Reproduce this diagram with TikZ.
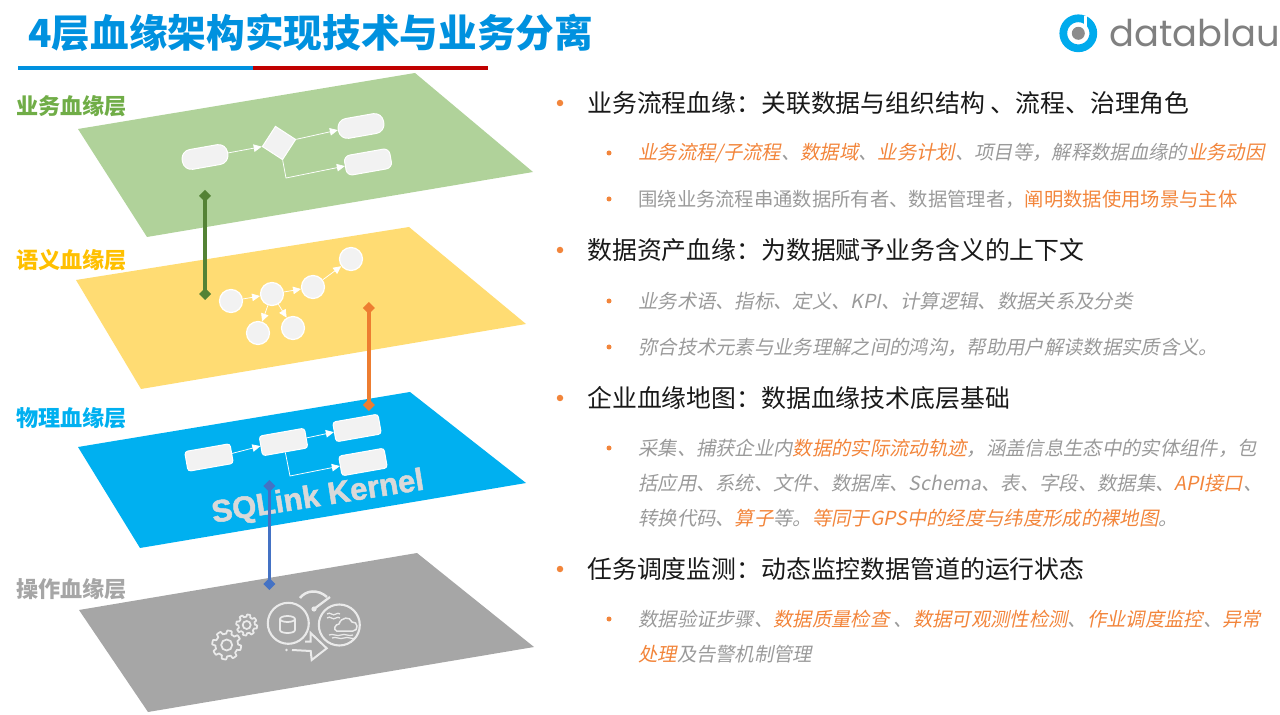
\documentclass[tikz,border=0pt]{standalone}
\usepackage{fontspec}
\usepackage{xcolor}
\usetikzlibrary{arrows.meta}
\setmainfont{Noto Sans CJK SC}
\newfontfamily\slantcjk[FakeSlant=0.2]{Noto Sans CJK SC}
\newfontfamily\latinbold[UprightFont=* Bold, FakeBold=1.6]{Liberation Sans}
\newfontfamily\logofont{Poppins}
\definecolor{titleblue}{HTML}{0091DF}
\definecolor{ruleRed}{HTML}{C00000}
\definecolor{bizgreen}{HTML}{70AD47}
\definecolor{semyellow}{HTML}{FFC000}
\definecolor{phyblue}{HTML}{00B0F0}
\definecolor{opgrey}{HTML}{A6A6A6}
\definecolor{boxgrey}{HTML}{F2F2F2}
\definecolor{hlorange}{HTML}{F2853B}
\definecolor{subgrey}{HTML}{9A9A9A}
\definecolor{linkgreen}{HTML}{548235}
\definecolor{linkorange}{HTML}{ED7D31}
\definecolor{linkblue}{HTML}{4472C4}
\newcommand{\hl}[1]{{\color{hlorange}#1}}
% gear outline: centre x, centre y, outer radius
\newcommand{\geartooth}[3]{
    \draw[icon, line width=0.35mm, line join=round] plot[domain=0:360, samples=145]
        ({#1+#3*(0.78+0.22*max(0,min(1,0.5+1.6*sin(8*\x))))*cos(\x)},
         {#2+#3*(0.78+0.22*max(0,min(1,0.5+1.6*sin(8*\x))))*sin(\x)}) -- cycle;
    \draw[icon, line width=0.35mm] (#1,#2) circle[radius=#3*0.38];
}
\begin{document}
\begin{tikzpicture}[
        x=0.02cm, y=-0.02cm,
        % Style for the flow shapes on the layers
        flowround/.style={
            rectangle, rounded corners=0.18cm, draw=white, line width=0.2mm, fill=boxgrey,
            minimum width=0.92cm, minimum height=0.4cm, inner sep=0pt, rotate=10
        },
        flowrect/.style={flowround, rounded corners=0.06cm},
        flowdiamond/.style={
            rectangle, draw=white, line width=0.2mm, fill=boxgrey,
            minimum size=0.48cm, inner sep=0pt, rotate=-33
        },
        flowcircle/.style={
            circle, draw=white, line width=0.25mm, fill=boxgrey,
            minimum size=0.46cm, inner sep=0pt
        },
        flowarrow/.style={
            draw=white, line width=0.15mm, -{Triangle[length=1.6mm, width=1.5mm, fill=white]}
        },
        % Style for the links between the layers
        layerlink/.style={
            line width=0.7mm, {Diamond[length=2.4mm, width=2.4mm]}-{Diamond[length=2.4mm, width=2.4mm]}
        },
        layerlabel/.style={font=\fontsize{12.6}{15}\bfseries\selectfont, inner sep=0pt, anchor=west},
        icon/.style={draw=boxgrey!90!opgrey},
        % Styles for the text on the right
        headtext/.style={font=\fontsize{14.15}{17}\selectfont, text=black!90, inner sep=0pt, anchor=west},
        subtext/.style={font=\fontsize{11}{13}\selectfont, text=subgrey, inner sep=0pt, anchor=west},
        subslant/.style={font=\fontsize{11}{13}\selectfont\slantcjk, text=subgrey, inner sep=0pt, anchor=west},
        headdot/.style={circle, fill=hlorange, minimum size=0.13cm, inner sep=0pt},
        subdot/.style={circle, fill=hlorange, minimum size=0.1cm, inner sep=0pt}
    ]
        \useasboundingbox (0,0) rectangle (1280,715);

        % --- 1. TITLE AND LOGO ---
        \node[font=\fontsize{22}{26}\bfseries\selectfont, text=titleblue, inner sep=0pt, anchor=west] (title) at (28,33) {4层血缘架构实现技术与业务分离};
        \fill[titleblue] (18,65.6) rectangle (253,70.4);
        \fill[ruleRed] (253,65.6) rectangle (488,70.4);

        \draw[phyblue!85!titleblue, line width=1.55mm] (1078.3,33.3) circle[radius=15];
        \fill[white] (1084,16) rectangle (1087,27);
        \fill[gray!90] (1078.3,33.3) circle[radius=6.5];
        \node[font=\fontsize{21}{25}\logofont\selectfont, text=gray, inner sep=0pt, anchor=west] (logo) at (1109,33) {datablau};

        % --- 2. LAYERS ---
        \fill[bizgreen!55!white] (78,129) -- (415,73) -- (533,172) -- (147,237) -- cycle;
        \fill[semyellow!55!white] (76,280) -- (409,227) -- (526,324) -- (141,389) -- cycle;
        \fill[phyblue] (78,447) -- (410,392) -- (526,483) -- (140,548) -- cycle;
        \fill[opgrey] (79,610) -- (417,553) -- (534,647) -- (148,712) -- cycle;

        \node[layerlabel, text=bizgreen] (bizlabel) at (16,106) {业务血缘层};
        \node[layerlabel, text=semyellow] (semlabel) at (16,260) {语义血缘层};
        \node[layerlabel, text=phyblue] (phylabel) at (16,418) {物理血缘层};
        \node[layerlabel, text=opgrey] (oplabel) at (16,589) {操作血缘层};

        % --- 3. BUSINESS FLOW ---
        \node[flowround] (biz1) at (205,157) {};
        \node[flowdiamond] (biz2) at (279,143) {};
        \node[flowround] (biz3) at (361,126) {};
        \node[flowround, rounded corners=0.12cm] (biz4) at (368,162) {};
        \coordinate (bizbend) at (286,178);
        \draw[flowarrow] (biz1.east) -- (biz2.south west);
        \draw[flowarrow] (biz2.north east) -- (biz3.west);
        \draw[flowarrow] (biz2.south east) -- (bizbend) -- (biz4.west);

        % --- 4. SEMANTIC GRAPH ---
        \node[flowcircle] (sem1) at (231,301) {};
        \node[flowcircle] (sem2) at (272,294) {};
        \node[flowcircle] (sem3) at (313,287) {};
        \node[flowcircle] (sem4) at (351,259) {};
        \node[flowcircle] (sem5) at (258,333) {};
        \node[flowcircle] (sem6) at (293,328) {};
        \draw[flowarrow] (sem1) -- (sem2);
        \draw[flowarrow] (sem2) -- (sem3);
        \draw[flowarrow] (sem3) -- (sem4);
        \draw[flowarrow] (sem2) -- (sem5);
        \draw[flowarrow] (sem2) -- (sem6);

        % --- 5. PHYSICAL FLOW ---
        \node[flowrect] (phy1) at (209,457.5) {};
        \node[flowrect] (phy2) at (283.5,442) {};
        \node[flowrect] (phy3) at (357,428) {};
        \node[flowrect] (phy4) at (363,462) {};
        \coordinate (phybend) at (290,476);
        \draw[flowarrow] (phy1.east) -- (phy2.west);
        \draw[flowarrow] (phy2.east) -- (phy3.west);
        \draw[flowarrow] (phy2.south) -- (phybend) -- (phy4.west);
        \node[font=\fontsize{17.7}{20}\latinbold\selectfont, text=black!15, rotate=9, inner sep=0pt] (kernel) at (318,498) {SQLink Kernel};

        % --- 6. OPERATION ICONS ---
        \geartooth{226.7}{645}{14.5}
        \geartooth{246.7}{625}{10.5}
        \draw[icon, line width=0.42mm] (288.3,623.3) circle[radius=20.5];
        \draw[icon, line width=0.42mm] (339.3,625) circle[radius=20.5];
        \draw[icon, line width=0.35mm] (287.5,619) ellipse[x radius=7.5, y radius=3];
        \draw[icon, line width=0.35mm] (280,619) -- (280,630) .. controls (280,634) and (295,634) .. (295,630) -- (295,619);
        \draw[icon, line width=0.5mm] (300,598) .. controls (306,590) and (318,589) .. (327,597);
        \draw[icon, line width=0.45mm] (330,597) -- (314,609);
        \fill[boxgrey!90!opgrey] (314,609) circle[radius=2.6];
        \draw[icon, line width=0.3mm] (336.7,631) .. controls (333,630) and (335,624) .. (339,624) .. controls (341,617) and (350,616) .. (352,622) .. controls (358,621) and (359,631) .. (353,631) -- cycle;
        \foreach \wy in {614,618} {
            \draw[icon, line width=0.25mm] (327,\wy) .. controls (330,\wy-3) and (333,\wy+3) .. (336,\wy) .. controls (337,\wy-1) and (339,\wy-1) .. (340,\wy);
        }
        \foreach \wx/\wy in {329/635, 332/638} {
            \draw[icon, line width=0.25mm] (\wx,\wy) .. controls (\wx+4,\wy-2) and (\wx+8,\wy+2) .. (\wx+12,\wy) .. controls (\wx+16,\wy-2) and (\wx+20,\wy+2) .. (\wx+24,\wy);
        }
        \draw[icon, line width=0.4mm, line join=miter] (305,641.7) -- (310.7,641.7) -- (310.7,633) -- (326.7,648.3) -- (311.7,660) -- (310.7,651) -- (292,650);
        \fill[boxgrey!90!opgrey] (286.5,650) circle[radius=1.3];

        % --- 7. LINKS BETWEEN LAYERS ---
        \coordinate (greentop) at (205,190);
        \coordinate (greenend) at (205,300);
        \coordinate (orangetop) at (368.8,302);
        \coordinate (orangeend) at (368.8,411);
        \coordinate (bluetop) at (269.3,480);
        \coordinate (blueend) at (269.3,590);
        \draw[layerlink, draw=linkgreen, fill=linkgreen] (greentop) -- (greenend);
        \draw[layerlink, draw=linkorange, fill=linkorange] (orangetop) -- (orangeend);
        \draw[layerlink, draw=linkblue, fill=linkblue] (bluetop) -- (blueend);

        % --- 8. TEXT ON THE RIGHT ---
        \node[headdot] (dot1) at (560,103) {};
        \node[headtext] (head1) at (587,103) {业务流程血缘：关联数据与组织结构 、流程、治理角色};
        \node[subdot] (dot11) at (609,153) {};
        \node[subslant] (line11) at (638,153) {\hl{业务流程/子流程}、\hl{数据域}、\hl{业务计划}、项目等，解释数据血缘的\hl{业务动因}};
        \node[subdot] (dot12) at (609,199) {};
        \node[subtext] (line12) at (638,199) {围绕业务流程串通数据所有者、数据管理者，\hl{阐明数据使用场景与主体}};

        \node[headdot] (dot2) at (560,250) {};
        \node[headtext] (head2) at (587,250) {数据资产血缘：为数据赋予业务含义的上下文};
        \node[subdot] (dot21) at (609,301) {};
        \node[subslant] (line21) at (638,301) {业务术语、指标、定义、KPI、计算逻辑、数据关系及分类};
        \node[subdot] (dot22) at (609,347) {};
        \node[subslant] (line22) at (638,347) {弥合技术元素与业务理解之间的鸿沟，帮助用户解读数据实质含义。};

        \node[headdot] (dot3) at (560,398) {};
        \node[headtext] (head3) at (587,398) {企业血缘地图：数据血缘技术底层基础};
        \node[subdot] (dot31) at (609,448) {};
        \node[subslant] (line31) at (638,448) {采集、捕获企业内\hl{数据的实际流动轨迹}，涵盖信息生态中的实体组件，包};
        \node[subslant] (line32) at (638,483) {括应用、系统、文件、数据库、Schema、表、字段、数据集、\hl{API接口}、};
        \node[subslant] (line33) at (638,518) {转换代码、\hl{算子}等。\hl{等同于GPS中的经度与纬度形成的裸地图}。};

        \node[headdot] (dot4) at (560,569) {};
        \node[headtext] (head4) at (587,569) {任务调度监测：动态监控数据管道的运行状态};
        \node[subdot] (dot41) at (609,619) {};
        \node[subslant] (line41) at (638,619) {数据验证步骤、\hl{数据质量检查} 、\hl{数据可观测性检测}、\hl{作业调度监控}、\hl{异常}};
        \node[subslant] (line42) at (638,654) {\hl{处理}及告警机制管理};

    \end{tikzpicture}
\end{document}
